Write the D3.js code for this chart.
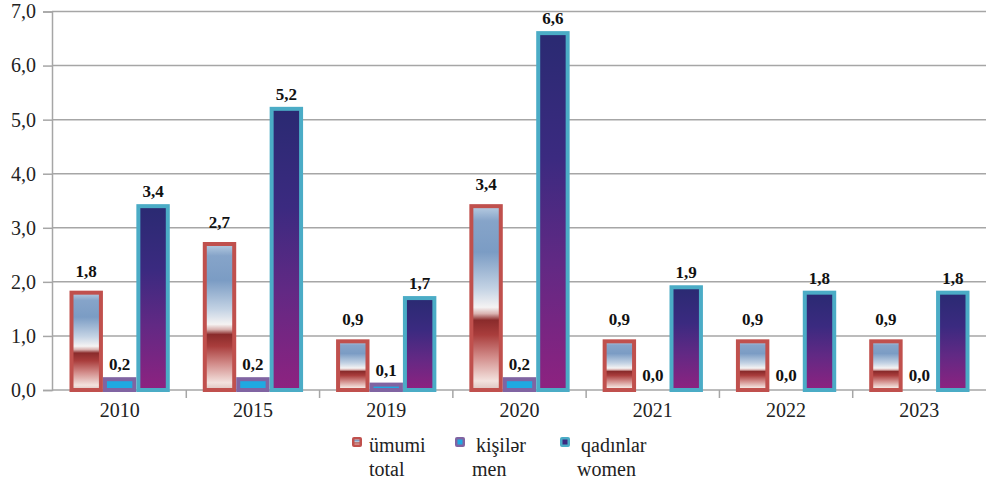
<!DOCTYPE html>
<html><head><meta charset="utf-8">
<script src="https://cdn.jsdelivr.net/npm/d3@7"></script>
<style>body{margin:0;background:#fff}svg{display:block}</style>
</head><body>
<script>
const years = ["2010","2015","2019","2020","2021","2022","2023"];
const total = [1.8, 2.7, 0.9, 3.4, 0.9, 0.9, 0.9];
const men   = [0.2, 0.2, 0.1, 0.2, 0.0, 0.0, 0.0];
const women = [3.4, 5.2, 1.7, 6.6, 1.9, 1.8, 1.8];
const yTicks = [0,1,2,3,4,5,6,7];
const seriesNames = ["total","men","women"];
const legendLine1 = ["ümumi","kişilər","qadınlar"];
const legendLine2 = ["total","men","women"];

const FONT = '"Liberation Serif"';
const W = 986, H = 481;
const svg = d3.select("body").append("svg").attr("width", W).attr("height", H);
const defs = svg.append("defs");

const gT = defs.append("linearGradient").attr("id","gTotal").attr("x1",0).attr("y1",0).attr("x2",0).attr("y2",1);
[[0,"#b9cde2"],[0.08,"#86a4c9"],[0.25,"#7b9cc4"],[0.45,"#c4d3e4"],[0.55,"#f5f3f3"],[0.585,"#d9b2b0"],[0.62,"#8a2b2b"],[0.7,"#a93d3c"],[0.82,"#d28c8a"],[0.95,"#f3e2de"],[1,"#dcc3bf"]]
  .forEach(([o,c]) => gT.append("stop").attr("offset",o).attr("stop-color",c));
const gW = defs.append("linearGradient").attr("id","gWomen").attr("x1",0).attr("y1",0).attr("x2",0).attr("y2",1);
[[0,"#2a2a72"],[0.35,"#3b2a80"],[0.65,"#622984"],[1,"#8e2280"]]
  .forEach(([o,c]) => gW.append("stop").attr("offset",o).attr("stop-color",c));

const fills = {total:"url(#gTotal)", men:"#1fa9e1", women:"url(#gWomen)"};
const strokes = {total:"#c0504d", men:"#8064a2", women:"#4bacc6"};
const data = {total, men, women};

const x0 = d3.scaleBand().domain(years).range([53, 986]).padding(0);
const x1 = d3.scaleBand().domain(seriesNames).range([16.5, x0.bandwidth()-16.5]).padding(0);
const y = d3.scaleLinear().domain([0,7]).range([390, 11.5]);

// gridlines
svg.append("g").selectAll("line").data(yTicks.filter(d=>d>0)).join("line")
  .attr("x1",52).attr("x2",986).attr("y1",d=>y(d)).attr("y2",d=>y(d))
  .attr("stroke","#a6a6a6").attr("stroke-width",1.5);

// y axis
const yAxis = svg.append("g").attr("transform","translate(52,0)")
  .call(d3.axisLeft(y).tickValues(yTicks).tickSize(9).tickPadding(7).tickFormat(d=>d3.format(".1f")(d).replace(".",",")));
yAxis.select(".domain").attr("stroke","#a6a6a6").attr("stroke-width",1.5);
yAxis.selectAll(".tick line").attr("stroke","#a6a6a6").attr("stroke-width",1.5);
yAxis.selectAll("text").style("font-family",FONT).style("font-size","20px").attr("fill","#222");

// x axis
const xAxis = svg.append("g").attr("transform","translate(0,390)")
  .call(d3.axisBottom(x0).tickSize(0).tickPadding(13));
xAxis.select(".domain").attr("stroke","#a6a6a6").attr("stroke-width",1.5).attr("d","M52,0H986");
xAxis.selectAll("text").style("font-family",FONT).style("font-size","20px").attr("fill","#222");
svg.append("g").selectAll("line").data(years.slice(1)).join("line")
  .attr("x1",d=>x0(d)).attr("x2",d=>x0(d)).attr("y1",390).attr("y2",398)
  .attr("stroke","#a6a6a6").attr("stroke-width",1.5);

// bars
const sw = 4;
const groups = svg.append("g").selectAll("g").data(years).join("g")
  .attr("transform", d => `translate(${x0(d)},0)`);
seriesNames.forEach(s => {
  groups.each(function(yr, i){
    const v = data[s][i];
    const g = d3.select(this);
    if (v > 0) {
      g.append("rect")
        .attr("x", x1(s) + sw/2).attr("width", x1.bandwidth() - sw)
        .attr("y", y(v)).attr("height", y(0) - y(v))
        .attr("fill", fills[s]).attr("stroke", strokes[s]).attr("stroke-width", sw);
    }
    g.append("text")
      .attr("x", x1(s) + x1.bandwidth()/2)
      .attr("y", y(v) - (s === "total" ? 16 : 9))
      .attr("text-anchor","middle")
      .style("font-family",FONT).style("font-weight","bold").style("font-size","17px")
      .attr("fill","#111")
      .text(d3.format(".1f")(v).replace(".",","));
  });
});

// legend
const legX = [352, 455, 560];
const innerFill = ["url(#gTotal)", "#1fa9e1", "#3b2a80"];
seriesNames.forEach((s, i) => {
  const g = svg.append("g").attr("transform", `translate(${legX[i]},437)`);
  g.append("rect").attr("x",0).attr("y",0).attr("width",10).attr("height",10).attr("rx",2)
    .attr("fill", strokes[s]);
  g.append("rect").attr("x",2.5).attr("y",2.5).attr("width",5).attr("height",5)
    .attr("fill", innerFill[i]);
  g.append("text").attr("x", i ? 21 : 17).attr("y", 15)
    .style("font-family",FONT).style("font-size","20px").attr("fill","#222")
    .text(legendLine1[i]);
  g.append("text").attr("x", 17).attr("y", 39)
    .style("font-family",FONT).style("font-size","20px").attr("fill","#222")
    .text(legendLine2[i]);
});
</script>
</body></html>
